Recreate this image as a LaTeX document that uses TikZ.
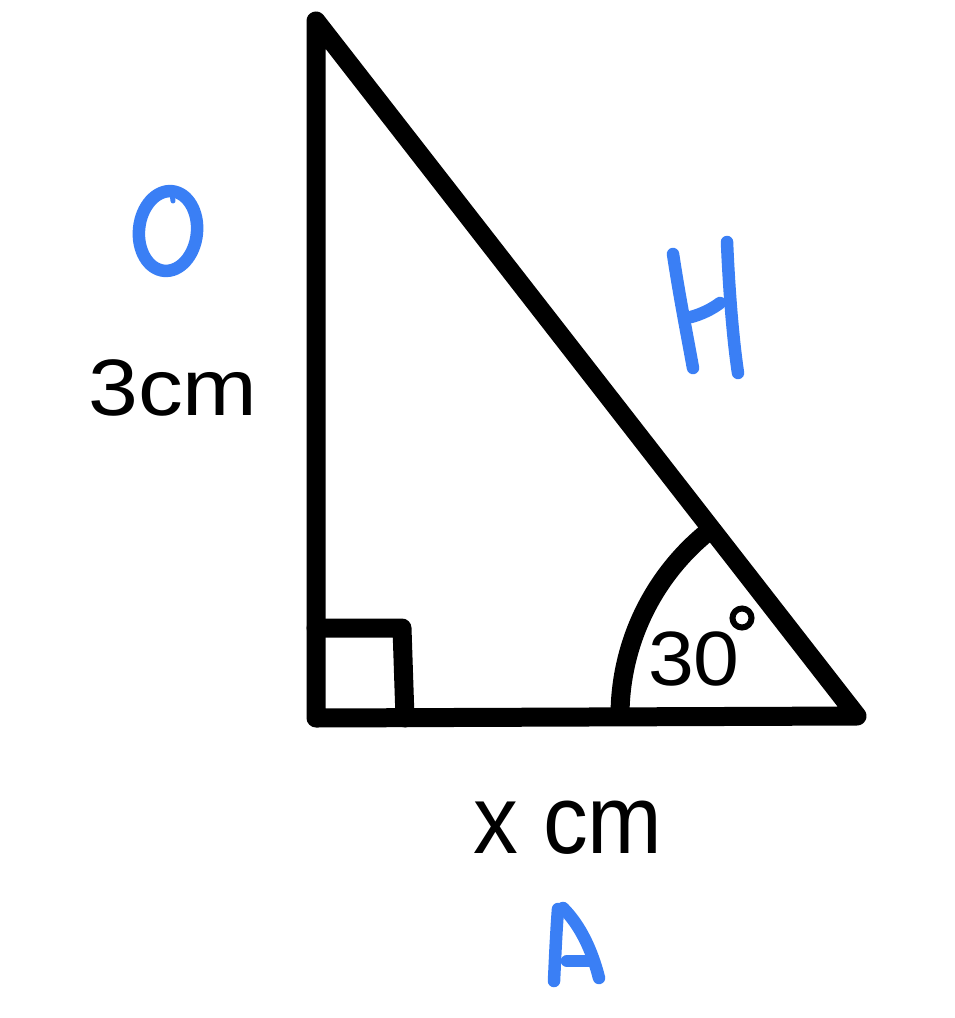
\documentclass[tikz,border=0pt]{standalone}
\usepackage{fontspec}
\setmainfont{Liberation Sans}
\definecolor{penblue}{RGB}{58,127,245}
\begin{document}
\begin{tikzpicture}[x=1pt,y=-1pt,
  edge/.style={line width=19pt,line cap=round,line join=round,black},
  pen/.style={line width=12.5pt,line cap=round,line join=round,penblue},
  lbl/.style={anchor=base,inner sep=0pt,font=\fontsize{80}{96}\selectfont}]
\useasboundingbox (0,0) rectangle (955,1018);
% vertices
\coordinate (T) at (316,21);
\coordinate (L) at (316,718);
\coordinate (R) at (857,716);
\coordinate (S1) at (316,628);
\coordinate (S2) at (402,628);
\coordinate (S3) at (405,718);
\coordinate (Arc0) at (620,716);
% triangle
\draw[edge] (T) -- (L) -- (R) -- cycle;
% right angle mark
\draw[edge] (S1) -- (S2) -- (S3);
% angle arc
\draw[edge] (Arc0) arc[start angle=180,end angle=232,radius=237];
% texts
\node[lbl] (opp) at (173,415) {\scalebox{1.12}[1]{3cm}};
\node[lbl] (adj) at (568,853) {\scalebox{1.12}[1.22]{x cm}};
\node[lbl,font=\fontsize{77}{90}\selectfont] (ang) at (694,685) {\scalebox{1.07}[1]{30}};
\node[draw,circle,line width=6pt,minimum size=19pt,inner sep=0pt] (deg) at (742,618) {};
% handwritten letters
\draw[pen,rotate around={-6:(168,231)}] (168,231) ellipse[x radius=29,y radius=40];
\draw[pen,line width=5pt] (172,193) -- (173,201);
% H
\draw[pen] (673,254) .. controls (680,300) and (688,340) .. (693,368);
\draw[pen] (727,242) .. controls (729,290) and (733,340) .. (738,373);
\draw[pen] (691,317) .. controls (702,314) and (712,309) .. (720,303);
% A
\draw[pen] (558,909) .. controls (556,935) and (555,960) .. (554,981);
\draw[pen] (563,908) .. controls (580,925) and (592,950) .. (599,978);
\draw[pen] (567,961) -- (589,961);
\end{tikzpicture}
\end{document}
